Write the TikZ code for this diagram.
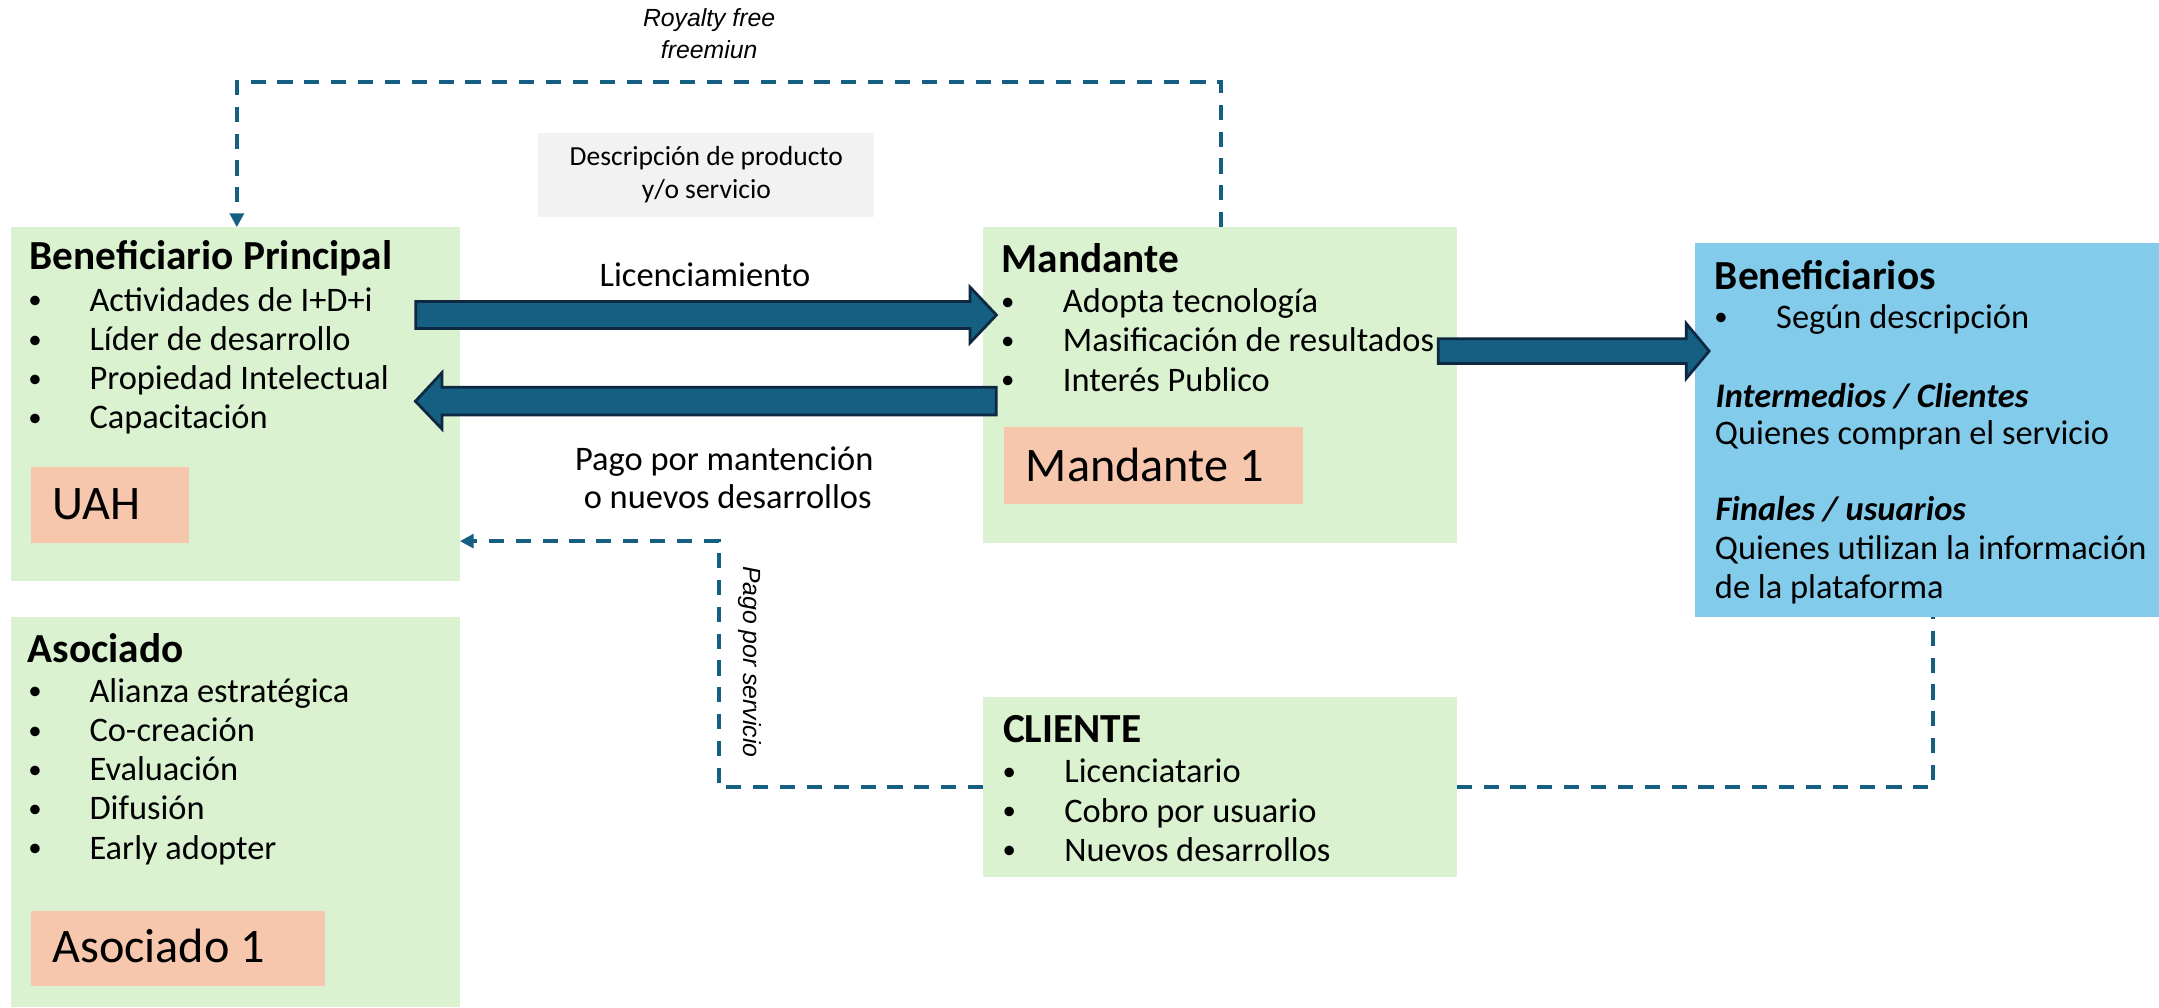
\documentclass[tikz,border=0pt]{standalone}
\usepackage{fontspec}
\setmainfont{Carlito}
\newfontfamily\arialf{Liberation Sans}
\usetikzlibrary{arrows.meta}
\definecolor{boxgreen}{HTML}{DAF2D0}
\definecolor{peach}{HTML}{F6C6AD}
\definecolor{skyb}{HTML}{83CBEB}
\definecolor{descgray}{HTML}{F2F2F2}
\definecolor{accblue}{HTML}{156082}
\definecolor{arrowedge}{HTML}{0E2841}
\newcommand{\mybul}{\raisebox{0.07em}{\scalebox{0.78}{•}}}
\begin{document}
\begin{tikzpicture}[x=1pt,y=-1pt,
  box/.style={inner sep=0pt, outer sep=0pt, draw=none, anchor=north west},
  txt/.style={inner sep=0pt, outer sep=0pt, anchor=base west, font=\fontsize{25}{30}\selectfont},
  ttl/.style={txt, font=\fontsize{30}{36}\selectfont\bfseries},
  subttl/.style={txt, font=\fontsize{25}{30}\selectfont\bfseries\itshape},
  big/.style={txt, font=\fontsize{35}{42}\selectfont},
  bul/.style={inner sep=0pt, outer sep=0pt, anchor=base, font=\fontsize{25}{30}\selectfont},
  ctxt/.style={inner sep=0pt, outer sep=0pt, anchor=base, font=\fontsize{25}{30}\selectfont},
  smalltxt/.style={inner sep=0pt, outer sep=0pt, anchor=base, font=\fontsize{20}{24}\selectfont},
  itlab/.style={inner sep=0pt, outer sep=0pt, font=\arialf\itshape\fontsize{18}{22}\selectfont},
  conn/.style={draw=accblue, line width=2.8pt, dash pattern=on 11pt off 8.5pt},
  tip/.style={-{Triangle[width=10pt,length=10pt]}},
  barrow/.style={fill=accblue, draw=arrowedge, line width=2pt, line join=miter}
]
\useasboundingbox (0,0) rectangle (1568,732);

% ---------- boxes ----------
\node[box, fill=boxgreen, minimum width=325.8pt, minimum height=257pt] (bp) at (8.2,165) {};
\node[box, fill=boxgreen, minimum width=325.8pt, minimum height=282.6pt] (aso) at (8.2,448.4) {};
\node[box, fill=boxgreen, minimum width=344pt, minimum height=229pt] (mand) at (714,165) {};
\node[box, fill=boxgreen, minimum width=344pt, minimum height=130.2pt] (cli) at (714,506.5) {};
\node[box, fill=skyb, minimum width=337pt, minimum height=271.3pt] (ben) at (1231,176.7) {};
\node[box, fill=descgray, minimum width=244pt, minimum height=61pt] (desc) at (391,96.5) {};
\node[box, fill=peach, minimum width=114.6pt, minimum height=55pt] (uah) at (22.4,339) {};
\node[box, fill=peach, minimum width=213.6pt, minimum height=54.4pt] (aso1) at (22.4,661.6) {};
\node[box, fill=peach, minimum width=217.1pt, minimum height=55.9pt] (mand1) at (729.4,310.4) {};

% ---------- Beneficiario Principal ----------
\node[ttl] (bpt) at (21.5,195.5) {Beneficiario Principal};
\foreach \y [count=\i] in {226,254.5,283,311.5} \node[bul] (bpb\i) at (25.5,\y) {\mybul};
\node[txt] (bpi1) at (65,226) {Actividades de I+D+i};
\node[txt] (bpi2) at (65,254.5) {Líder de desarrollo};
\node[txt] (bpi3) at (65,283) {Propiedad Intelectual};
\node[txt] (bpi4) at (65,311.5) {Capacitación};
\node[big] (uaht) at (38,377.5) {UAH};

% ---------- Asociado ----------
\node[ttl] (asot) at (20,481) {Asociado};
\foreach \y [count=\i] in {510,538.5,567,595.5,624} \node[bul] (asob\i) at (25.5,\y) {\mybul};
\node[txt] (asoi1) at (65,510) {Alianza estratégica};
\node[txt] (asoi2) at (65,538.5) {Co-creación};
\node[txt] (asoi3) at (65,567) {Evaluación};
\node[txt] (asoi4) at (65,595.5) {Difusión};
\node[txt] (asoi5) at (65,624) {Early adopter};
\node[big] (aso1t) at (38,699) {Asociado 1};

% ---------- Mandante ----------
\node[ttl] (mandt) at (727.5,198) {Mandante};
\foreach \y [count=\i] in {227,255.5,284} \node[bul] (mandb\i) at (732,\y) {\mybul};
\node[txt] (mandi1) at (772,227) {Adopta tecnología};
\node[txt] (mandi2) at (772,255.5) {Masificación de resultados};
\node[txt] (mandi3) at (772,284) {Interés Publico};
\node[big] (mand1t) at (745,350) {Mandante 1};

% ---------- CLIENTE ----------
\node[ttl] (clit) at (728.5,539.5) {CLIENTE};
\foreach \y [count=\i] in {568.5,597,625.5} \node[bul] (clib\i) at (733,\y) {\mybul};
\node[txt] (clii1) at (773,568.5) {Licenciatario};
\node[txt] (clii2) at (773,597) {Cobro por usuario};
\node[txt] (clii3) at (773,625.5) {Nuevos desarrollos};

% ---------- Beneficiarios ----------
\node[ttl] (bent) at (1245.5,210) {Beneficiarios};
\node[bul] (benb1) at (1250,238.5) {\mybul};
\node[txt] (beni1) at (1290,238.5) {Según descripción};
\node[subttl] (bens1) at (1246,296) {Intermedios / Clientes};
\node[txt] (beni2) at (1245.5,323) {Quienes compran el servicio};
\node[subttl] (bens2) at (1246,378) {Finales / usuarios};
\node[txt] (beni3) at (1245.5,406.5) {Quienes utilizan la información};
\node[txt] (beni4) at (1245.5,435) {de la plataforma};

% ---------- free labels ----------
\node[smalltxt] (desc1) at (513,120.5) {Descripción de producto};
\node[smalltxt] (desc2) at (513,144.5) {y/o servicio};
\node[itlab, anchor=base] (roy1) at (515,19.5) {Royalty free};
\node[itlab, anchor=base] (roy2) at (515,42.5) {freemiun};
\node[ctxt] (lic) at (512,208) {Licenciamiento};
\node[ctxt] (pago1) at (526,341.5) {Pago por mantención};
\node[ctxt] (pago2) at (528.5,369) {o nuevos desarrollos};
\node[itlab, rotate=-90] (pps) at (544.4,480.6) {Pago por servicio};

% ---------- dashed connectors ----------
\coordinate (topR) at (887,59.5);
\coordinate (topL) at (172,59.5);
\coordinate (midC) at (522,393);
\coordinate (rgtC) at (1404,448);
\draw[conn, tip] (mand.north -| topR) -- (topR) -- (topL) -- (bp.north -| topL);
\draw[conn, tip] (cli.west) -| (midC) -- (bp.east |- midC);
\draw[conn] (cli.east) -| (rgtC);

% ---------- block arrows ----------
\draw[barrow] (302,219) -- (704.5,219) -- (704.5,208.5) -- (723.7,228.75) -- (704.5,249) -- (704.5,238.5) -- (302,238.5) -- cycle;
\draw[barrow] (723.5,281.3) -- (321,281.3) -- (321,270.6) -- (301.7,291.4) -- (321,311.6) -- (321,301.4) -- (723.5,301.4) -- cycle;
\draw[barrow] (1044.5,246) -- (1224.7,246) -- (1224.7,235) -- (1241.3,255) -- (1224.7,274.8) -- (1224.7,264) -- (1044.5,264) -- cycle;
\end{tikzpicture}
\end{document}
